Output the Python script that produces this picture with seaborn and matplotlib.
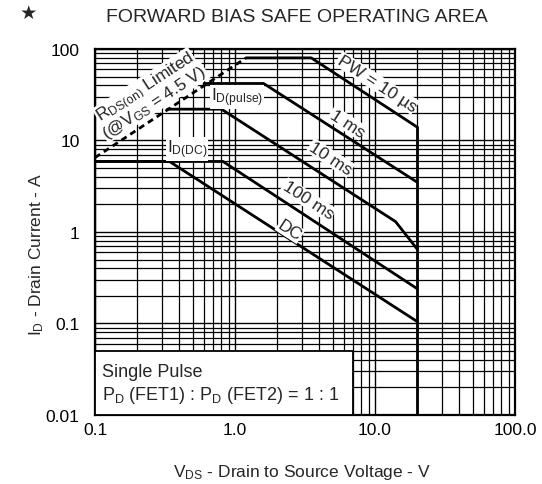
import numpy as np
import pandas as pd
import matplotlib
matplotlib.use("Agg")
import matplotlib.pyplot as plt
import matplotlib.ticker as mticker
from matplotlib.patches import Rectangle
import seaborn as sns

# Curve data (VDS in V, ID in A)
rds_v = [0.1, 1.2]
rds_i = [6.5, 80]

pw10us_v = [1.2, 3.5, 20]
pw10us_i = [80, 80, 14]

pw1ms_v = [0.6, 1.6, 20]
pw1ms_i = [42, 42, 3.5]

pw10ms_v = [0.33, 0.8, 14, 20]
pw10ms_i = [22, 22, 1.3, 0.65]

pw100ms_v = [0.1, 0.82, 20]
pw100ms_i = [5.9, 5.9, 0.24]

dc_v = [0.1, 0.34, 20]
dc_i = [5.9, 5.9, 0.105]

vdss_v = [20, 20]
vdss_i = [14, 0.01]

x_ticks = [0.1, 1, 10, 100]
x_labels = ["0.1", "1.0", "10.0", "100.0"]
y_ticks = [0.01, 0.1, 1, 10, 100]
y_labels = ["0.01", "0.1", "1", "10", "100"]

sns.set_theme(style="white")
plt.rcParams['font.family'] = ['Liberation Sans', 'DejaVu Sans']
plt.rcParams['mathtext.fontset'] = 'custom'
plt.rcParams['mathtext.rm'] = 'Liberation Sans'

fig = plt.figure(figsize=(5.42, 4.85), dpi=100)
ax = fig.add_axes([0.1753, 0.1423, 0.775, 0.7546])

curves = [
    (pw10us_v, pw10us_i),
    (pw1ms_v, pw1ms_i),
    (pw10ms_v, pw10ms_i),
    (pw100ms_v, pw100ms_i),
    (dc_v, dc_i),
    (vdss_v, vdss_i),
]
for v, i in curves:
    df = pd.DataFrame({'v': v, 'i': i})
    sns.lineplot(data=df, x='v', y='i', ax=ax, color='black', lw=2.0,
                 sort=False, estimator=None, zorder=4)

# RDS(on) limit, dashed
sns.lineplot(x=rds_v, y=rds_i, ax=ax, color='black', lw=2.0, sort=False,
             estimator=None, zorder=4, dashes=False)
ax.lines[-1].set_dashes([2.2, 1.6])

ax.set_xscale('log')
ax.set_yscale('log')
ax.set_xlim(0.1, 100)
ax.set_ylim(0.01, 100)
ax.set_xticks(x_ticks)
ax.set_xticklabels(x_labels)
ax.set_yticks(y_ticks)
ax.set_yticklabels(y_labels)
ax.xaxis.set_minor_locator(mticker.LogLocator(base=10, subs=np.arange(2, 10)))
ax.yaxis.set_minor_locator(mticker.LogLocator(base=10, subs=np.arange(2, 10)))
ax.xaxis.set_minor_formatter(mticker.NullFormatter())
ax.yaxis.set_minor_formatter(mticker.NullFormatter())
ax.tick_params(which='both', length=0, labelsize=12.5, colors='black')
ax.tick_params(axis='x', pad=5)
ax.tick_params(axis='y', pad=11)
ax.grid(True, which='major', color='black', lw=1.0)
ax.grid(True, which='minor', color='black', lw=0.9)
ax.set_xlabel('')
ax.set_ylabel('')
for s in ax.spines.values():
    s.set_color('black')
    s.set_linewidth(1.6)

# legend box in lower left
ax.add_patch(Rectangle((0.1, 0.01), 6.9, 0.04, facecolor='white',
                       edgecolor='black', lw=1.3, zorder=3))
ax.text(0.017, 0.12, "Single Pulse", transform=ax.transAxes, fontsize=13,
        va='center', ha='left', zorder=5)
ax.text(0.017, 0.057, r"$\mathregular{P_D}$ (FET1) : $\mathregular{P_D}$ (FET2) = 1 : 1",
        transform=ax.transAxes, fontsize=13, va='center', ha='left', zorder=5)

wb = dict(facecolor='white', edgecolor='none', pad=0.5)
ang = -33
labels = [
    (10.3, 42.5, "PW = 10 µs", ang),
    (6.3, 15.5, "1 ms", ang),
    (4.8, 6.45, "10 ms", ang),
    (3.33, 2.24, "100 ms", ang),
    (2.47, 1.05, "DC", ang),
    (1.03, 29.9, r"$\mathregular{I_{D(pulse)}}$", 0),
    (0.454, 8.1, r"$\mathregular{I_{D(DC)}}$", 0),
    (0.231, 37.5, r"$\mathregular{R_{DS(on)}}$ Limited", 33),
    (0.264, 26.4, r"(@$\mathregular{V_{GS}}$ = 4.5 V)", 33),
]
for x, y, t, r in labels:
    ax.text(x, y, t, rotation=r, rotation_mode='anchor', ha='center', va='center',
            fontsize=12.5, bbox=wb, zorder=5)

fig.text(0.557, 0.025, r"$\mathregular{V_{DS}}$ - Drain to Source Voltage - V",
         ha='center', va='center', fontsize=12.5)
fig.text(0.067, 0.475, r"$\mathregular{I_D}$ - Drain Current - A", rotation=90,
         ha='center', va='center', fontsize=12.5)
fig.text(0.547, 0.964, "FORWARD BIAS SAFE OPERATING AREA", ha='center', va='center',
         fontsize=14)
fig.text(0.052, 0.972, "★", ha='center', va='center', fontsize=14,
         family=['DejaVu Sans'])

fig.savefig("out.png", dpi=100, facecolor='white')
